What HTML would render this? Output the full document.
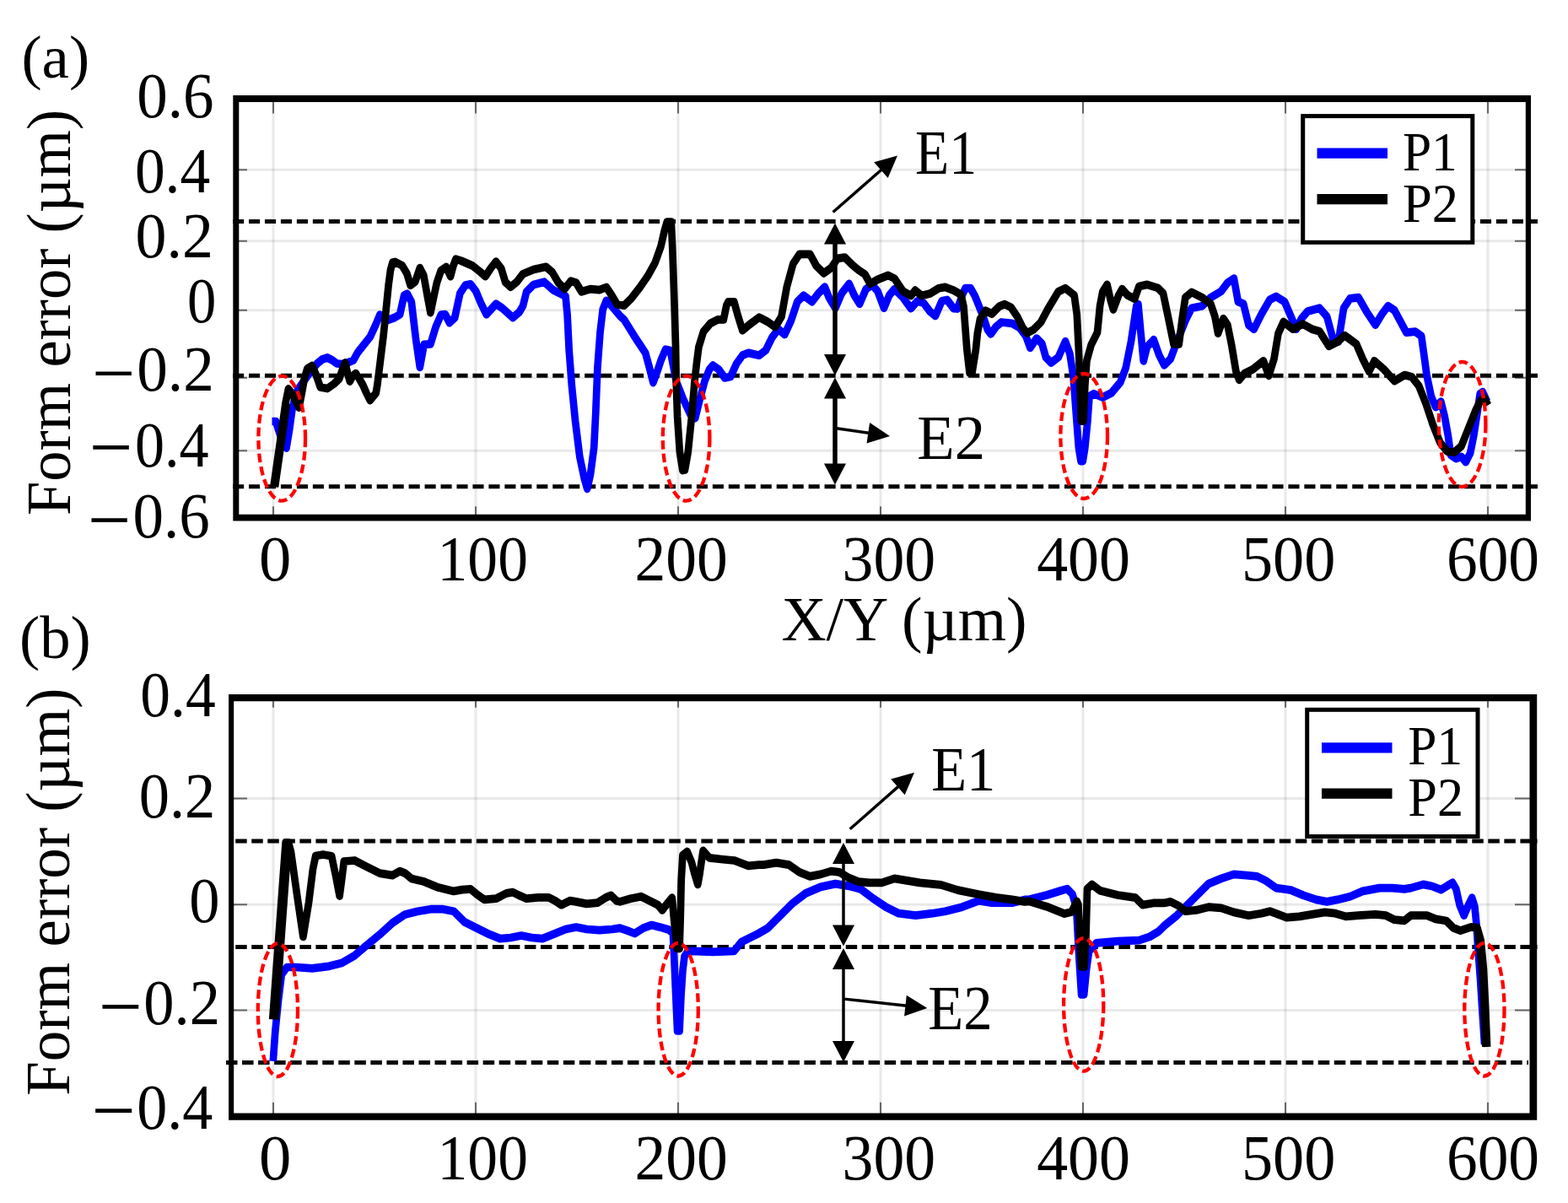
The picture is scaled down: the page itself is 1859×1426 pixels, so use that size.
<!DOCTYPE html>
<html lang="en">
<head>
<meta charset="utf-8">
<title>Form error profiles</title>
<style>
html,body{margin:0;padding:0;background:#fff;}
body{width:1859px;height:1426px;overflow:hidden;}
svg{display:block;}
</style>
</head>
<body>
<svg width="1859" height="1426" viewBox="0 0 1859 1426" font-family='"Liberation Serif", "DejaVu Serif", serif' fill="#000">
<rect width="1859" height="1426" fill="#fff"/>
<g id="figure">
<g id="plot-a">
<path d="M324,117.0 V613.7 M564,117.0 V613.7 M804,117.0 V613.7 M1044,117.0 V613.7 M1284,117.0 V613.7 M1524,117.0 V613.7 M1764,117.0 V613.7" stroke="#000" stroke-opacity="0.085" stroke-width="3" fill="none"/>
<path d="M279.8,201.2 H1811.9 M279.8,285.7 H1811.9 M279.8,367.7 H1811.9 M279.8,447.8 H1811.9 M279.8,534.2 H1811.9" stroke="#000" stroke-opacity="0.085" stroke-width="3" fill="none"/>
<path d="M324,117.0 V134.4 M324,613.7 V600.3 M564,117.0 V134.4 M564,613.7 V600.3 M804,117.0 V134.4 M804,613.7 V600.3 M1044,117.0 V134.4 M1044,613.7 V600.3 M1284,117.0 V134.4 M1284,613.7 V600.3 M1524,117.0 V134.4 M1524,613.7 V600.3 M1764,117.0 V134.4 M1764,613.7 V600.3 M279.8,201.2 H293 M1811.9,201.2 H1796 M279.8,285.7 H293 M1811.9,285.7 H1796 M279.8,367.7 H293 M1811.9,367.7 H1796 M279.8,447.8 H293 M1811.9,447.8 H1796 M279.8,534.2 H293 M1811.9,534.2 H1796" stroke="#666" stroke-width="2" fill="none"/>
<path d="M276.04,262.6 H1823" stroke="#000" stroke-width="5" stroke-dasharray="13.1 5.86" fill="none"/>
<path d="M276.04,445.3 H1823" stroke="#000" stroke-width="5" stroke-dasharray="13.1 5.86" fill="none"/>
<path d="M276.04,576.8 H1823" stroke="#000" stroke-width="5" stroke-dasharray="13.1 5.86" fill="none"/>
<g transform="scale(1,1.12)" fill="none" stroke-linejoin="round" stroke-width="8.7">
<path d="M322.5,445.98 L327.0,445.98 L331.0,457.14 L335.0,467.86 L339.5,474.11 L343.0,455.36 L346.5,433.04 L350.0,419.64 L353.1,412.50 L360.0,403.57 L368.0,393.75 L376.0,384.82 L382.0,380.36 L388.2,378.57 L394.0,381.25 L399.4,384.82 L406.0,385.27 L412.0,383.93 L419.0,381.25 L424.0,373.21 L430.3,366.07 L439.0,356.25 L445.3,343.93 L450.3,333.21 L457.8,339.46 L467.8,336.16 L474.1,332.77 L479.1,312.68 L482.8,310.89 L487.8,319.37 L492.8,357.32 L497.8,388.66 L502.8,364.55 L510.4,364.11 L516.6,346.16 L522.9,333.21 L527.9,332.77 L532.9,341.70 L539.2,336.16 L545.4,310.45 L551.7,301.88 L557.9,300.80 L564.2,308.21 L570.5,321.61 L576.7,332.77 L588.0,321.61 L595.5,326.07 L608.0,336.16 L615.5,330.54 L620.0,323.75 L624.2,308.75 L632.6,301.25 L645.2,298.39 L655.8,306.87 L670.5,313.39 L672.6,333.12 L674.7,370.71 L677.9,408.30 L682.1,445.89 L687.3,483.39 L692.6,505.98 L696.2,517.23 L700.0,502.23 L704.2,474.02 L706.3,436.43 L708.4,389.46 L711.5,351.96 L714.7,327.50 L718.9,318.12 L725.2,323.75 L735.7,335.00 L740.0,338.39 L754.0,358.48 L765.2,373.48 L770.0,389.29 L774.4,404.91 L779.0,393.75 L784.0,380.36 L789.1,369.82 L794.7,370.98 L801.7,403.57 L810.0,422.32 L818.5,438.66 L824.2,442.50 L829.8,422.32 L835.4,403.57 L841.0,391.07 L845.2,386.61 L852.2,391.07 L859.2,399.91 L866.2,398.66 L873.2,384.82 L880.3,376.07 L887.3,373.57 L900.0,376.07 L907.8,370.80 L915.3,357.32 L922.8,348.39 L930.3,354.02 L937.8,339.46 L945.3,319.37 L952.8,312.68 L962.8,319.37 L970.4,310.45 L977.9,303.75 L982.9,314.91 L990.4,326.07 L997.9,310.45 L1006.7,300.36 L1012.9,312.68 L1019.2,321.61 L1026.7,305.98 L1034.2,301.43 L1040.5,308.21 L1048.0,326.07 L1054.2,312.68 L1060.5,305.98 L1070.5,314.91 L1080.0,326.43 L1087.6,318.57 L1095.1,320.80 L1102.7,329.82 L1109.0,334.37 L1116.6,318.57 L1122.9,317.41 L1130.5,326.43 L1135.0,326.79 L1140.6,312.95 L1144.4,305.09 L1150.7,305.09 L1155.7,312.95 L1160.8,324.20 L1165.8,335.45 L1170.9,349.02 L1174.7,353.48 L1181.0,345.62 L1187.3,341.07 L1199.9,342.23 L1208.8,346.79 L1216.3,355.80 L1221.4,368.12 L1229.0,358.04 L1235.3,363.66 L1240.0,378.30 L1246.3,383.93 L1254.7,378.21 L1263.1,361.34 L1268.4,374.46 L1272.6,398.93 L1275.7,436.43 L1278.9,474.02 L1281.5,487.95 L1283.8,487.95 L1286.3,474.02 L1289.4,445.89 L1291.5,419.55 L1296.8,416.70 L1307.3,420.54 L1317.8,415.80 L1328.3,404.55 L1334.7,389.46 L1341.0,361.34 L1347.3,323.75 L1349.4,321.87 L1352.5,351.96 L1355.7,381.96 L1360.0,366.96 L1367.8,359.55 L1374.0,375.27 L1380.3,386.43 L1387.8,379.73 L1395.3,361.79 L1405.3,339.46 L1412.8,326.07 L1425.3,323.84 L1435.4,314.91 L1447.9,308.21 L1455.4,299.20 L1462.9,294.73 L1467.9,319.37 L1474.2,321.61 L1480.4,343.93 L1486.7,348.39 L1495.4,332.77 L1505.5,317.14 L1513.0,313.75 L1523.0,319.37 L1530.5,335.00 L1536.8,348.39 L1543.0,337.23 L1550.5,329.37 L1564.3,326.07 L1573.1,335.00 L1580.6,359.55 L1586.8,361.79 L1593.1,326.07 L1600.6,315.98 L1610.6,314.91 L1620.6,330.54 L1630.6,343.93 L1638.2,332.77 L1645.7,323.84 L1653.2,328.30 L1667.4,351.96 L1677.9,350.98 L1685.2,355.71 L1688.4,376.34 L1691.5,396.96 L1696.8,419.55 L1702.1,430.80 L1708.4,425.18 L1712.6,440.18 L1716.8,460.89 L1720.0,481.52 L1726.3,485.27 L1732.6,483.39 L1737.8,489.02 L1743.1,479.64 L1747.3,460.89 L1751.5,436.43 L1754.7,416.70 L1757.8,414.82 L1763.1,425.18" stroke="#0000ff"/>
<path d="M324.4,515.18 L329.0,486.61 L334.0,455.36 L338.5,426.79 L341.9,411.61 L346.0,416.07 L354.5,431.25 L358.0,415.18 L361.0,400.00 L364.3,390.18 L370.0,387.05 L375.0,397.32 L379.8,409.82 L388.2,411.16 L396.0,406.25 L402.2,400.89 L406.0,391.07 L409.2,383.93 L412.0,394.64 L414.8,403.57 L418.0,398.21 L421.8,395.09 L426.0,400.89 L430.3,407.59 L434.5,416.07 L438.7,423.66 L445.7,416.07 L447.4,407.14 L451.0,381.25 L454.7,354.46 L458.0,325.00 L460.6,301.79 L463.0,285.71 L465.5,277.68 L468.3,277.23 L476.6,280.89 L482.3,289.20 L486.6,301.88 L492.3,298.12 L497.8,283.57 L502.3,291.43 L506.6,312.68 L510.4,330.98 L514.1,314.91 L517.9,299.20 L522.9,286.25 L529.1,282.50 L534.1,292.50 L537.4,281.34 L540.4,274.20 L546.7,275.98 L560.4,281.34 L569.2,287.59 L575.5,292.50 L581.7,284.02 L588.0,276.88 L594.2,284.02 L599.2,298.75 L605.5,303.75 L613.0,298.12 L620.0,289.91 L632.6,285.27 L647.4,282.41 L654.7,288.04 L662.1,299.29 L669.4,305.89 L676.8,297.41 L683.1,299.29 L689.4,308.75 L699.9,305.89 L710.5,306.87 L718.9,304.02 L725.2,312.50 L731.5,321.87 L740.0,323.39 L748.4,315.89 L758.2,304.64 L768.0,292.05 L776.5,278.30 L783.5,260.80 L787.7,244.46 L790.8,234.82 L795.8,234.82 L797.2,260.71 L799.6,323.39 L801.0,366.07 L801.7,403.57 L803.1,441.07 L805.9,478.57 L809.4,497.77 L812.0,497.32 L815.7,478.57 L820.0,441.07 L823.5,403.57 L826.0,383.93 L828.4,367.23 L834.0,350.98 L842.4,342.14 L850.8,338.39 L857.8,338.39 L861.3,323.39 L863.4,319.64 L870.4,319.64 L874.6,333.39 L880.3,349.73 L888.7,343.39 L900.0,335.89 L910.3,340.62 L919.0,346.16 L926.5,335.00 L932.8,303.75 L940.3,279.11 L947.8,269.02 L960.3,269.02 L967.8,281.34 L976.6,289.20 L985.4,283.57 L992.9,273.48 L1001.6,272.41 L1010.4,280.27 L1017.9,285.80 L1025.4,290.27 L1031.7,300.36 L1040.5,295.89 L1053.0,291.43 L1060.5,294.73 L1070.5,308.21 L1080.0,312.95 L1085.0,307.32 L1092.6,312.95 L1102.7,310.71 L1112.8,305.09 L1120.4,303.93 L1130.5,307.32 L1139.3,311.79 L1142.5,324.20 L1144.4,346.79 L1146.3,369.29 L1149.5,394.64 L1152.5,394.64 L1157.0,369.29 L1158.9,352.41 L1162.0,337.77 L1168.4,328.75 L1175.9,332.14 L1184.8,324.20 L1191.1,321.96 L1198.7,325.36 L1206.2,335.45 L1212.5,346.79 L1217.6,352.41 L1225.2,349.02 L1234.0,341.07 L1242.1,327.50 L1254.7,308.75 L1263.1,305.00 L1273.6,312.50 L1276.8,333.04 L1278.9,370.71 L1280.5,408.30 L1281.8,445.54 L1284.6,445.54 L1286.3,408.30 L1288.4,381.96 L1293.6,365.09 L1301.0,351.96 L1304.1,323.75 L1307.3,308.75 L1312.6,301.25 L1316.8,318.12 L1319.9,327.50 L1326.2,312.50 L1330.4,305.89 L1336.8,312.50 L1345.2,316.25 L1350.4,303.12 L1360.0,301.25 L1372.8,304.82 L1379.0,310.45 L1385.3,337.23 L1391.5,364.11 L1397.8,364.11 L1401.6,337.23 L1405.3,314.91 L1412.8,309.29 L1425.3,314.91 L1435.4,321.61 L1440.4,335.00 L1444.1,352.86 L1450.4,337.23 L1455.4,343.93 L1460.4,366.34 L1465.4,393.12 L1469.2,402.05 L1475.4,395.36 L1485.4,390.89 L1497.9,381.96 L1504.2,397.59 L1510.5,379.73 L1515.5,352.86 L1521.7,340.62 L1533.0,348.39 L1544.3,342.86 L1555.5,348.39 L1564.3,350.62 L1575.6,366.34 L1585.6,361.79 L1594.3,355.09 L1608.1,364.11 L1615.6,379.73 L1623.1,393.12 L1629.4,381.96 L1640.7,390.89 L1653.2,403.21 L1665.2,396.96 L1673.7,398.93 L1682.1,408.30 L1690.5,427.05 L1698.9,449.64 L1707.3,468.39 L1715.7,477.77 L1724.2,478.75 L1732.6,472.14 L1741.0,453.39 L1749.4,434.55 L1755.7,423.30 L1759.9,421.43 L1764.1,428.93 M326.0,515.18 L330.6,486.61 L335.6,455.36 L340.0,426.79" stroke="#000"/>
</g>
<ellipse cx="334.2" cy="519.7" rx="27.8" ry="74" fill="none" stroke="#ff0000" stroke-width="4.3" stroke-dasharray="10.5 5"/>
<ellipse cx="813.6" cy="519.7" rx="27.8" ry="74" fill="none" stroke="#ff0000" stroke-width="4.3" stroke-dasharray="10.5 5"/>
<ellipse cx="1285.2" cy="517" rx="27.8" ry="74" fill="none" stroke="#ff0000" stroke-width="4.3" stroke-dasharray="10.5 5"/>
<ellipse cx="1733.6" cy="503" rx="27.8" ry="74" fill="none" stroke="#ff0000" stroke-width="4.3" stroke-dasharray="10.5 5"/>
<path d="M990,274.5 V435" stroke="#000" stroke-width="5.5" fill="none"/>
<polygon points="990.0,264.5 1003.0,289.5 977.0,289.5" fill="#000"/>
<polygon points="990.0,445.0 977.0,420.0 1003.0,420.0" fill="#000"/>
<path d="M990,457.5 V564.5" stroke="#000" stroke-width="5.5" fill="none"/>
<polygon points="990.0,447.5 1003.0,472.5 977.0,472.5" fill="#000"/>
<polygon points="990.0,574.5 977.0,549.5 1003.0,549.5" fill="#000"/>
<path d="M987.6,251.5 L1052.7,194.5" stroke="#000" stroke-width="3.4" fill="none"/>
<polygon points="1064.0,184.6 1052.7,211.1 1036.2,192.3" fill="#000"/>
<path d="M990,507.5 L1040.2,514.8" stroke="#000" stroke-width="3.4" fill="none"/>
<polygon points="1055.0,517.0 1027.5,525.6 1031.1,500.9" fill="#000"/>
<text transform="translate(1085.01,205.70) scale(0.8886,1.000)" font-size="74">E1</text>
<text transform="translate(1087.30,544.20) scale(0.9831,1.000)" font-size="74">E2</text>
<rect x="1544.7" y="137.6" width="201.1" height="149.7" fill="#fff" stroke="#000" stroke-width="5"/>
<path d="M1561.5,181.6 H1645" stroke="#0000ff" stroke-width="12.2" fill="none"/>
<path d="M1561.5,236.2 H1645" stroke="#000" stroke-width="12.2" fill="none"/>
<text transform="translate(1663.03,201.70) scale(0.9289,1.000)" font-size="66">P1</text>
<text transform="translate(1663.00,262.80) scale(0.9476,1.000)" font-size="66">P2</text>
<path d="M276.3,112.9 H1815.0 V617.5 H276.3 Z M283.3,121.0 V609.8 H1808.8 V121.0 Z" fill="#000" fill-rule="evenodd"/>
<text transform="translate(162.22,138.50) scale(0.9865,1.020)" font-size="74">0.6</text>
<text transform="translate(159.88,228.10) scale(0.9658,1.020)" font-size="74">0.4</text>
<text transform="translate(160.58,305.00) scale(0.9988,1.020)" font-size="74">0.2</text>
<text transform="translate(222.09,381.60) scale(0.9278,1.020)" font-size="74">0</text>
<text transform="translate(162.21,463.10) scale(0.9895,1.020)" font-size="74"><tspan x="-53.92" y="10.67" font-size="92.1">−</tspan><tspan x="0" y="0">0.2</tspan></text>
<text transform="translate(159.93,552.60) scale(0.9478,1.020)" font-size="74"><tspan x="-57.06" y="10.23" font-size="96.4">−</tspan><tspan x="0" y="0">0.4</tspan></text>
<text transform="translate(157.42,636.50) scale(0.9865,1.020)" font-size="74"><tspan x="-54.48" y="11.18" font-size="92.1">−</tspan><tspan x="0" y="0">0.6</tspan></text>
<text transform="translate(306.88,688.40) scale(1.0362,1.020)" font-size="74">0</text>
<text transform="translate(518.61,688.40) scale(0.9668,1.020)" font-size="74">100</text>
<text transform="translate(752.47,688.40) scale(0.9940,1.020)" font-size="74">200</text>
<text transform="translate(998.57,688.40) scale(0.9967,1.020)" font-size="74">300</text>
<text transform="translate(1229.16,688.40) scale(0.9978,1.020)" font-size="74">400</text>
<text transform="translate(1471.88,688.40) scale(1.0040,1.020)" font-size="74">500</text>
<text transform="translate(1714.94,688.40) scale(0.9924,1.020)" font-size="74">600</text>
<text transform="translate(83.10,611.09) rotate(-90) scale(0.9812,1.000)" font-size="74">Form error (µm)</text>
<text transform="translate(25.41,91.70) scale(0.9825,0.980)" font-size="74">(a)</text>
</g>
<g id="plot-b">
<path d="M324,827.2 V1323.6 M564,827.2 V1323.6 M804,827.2 V1323.6 M1044,827.2 V1323.6 M1284,827.2 V1323.6 M1524,827.2 V1323.6 M1764,827.2 V1323.6" stroke="#000" stroke-opacity="0.085" stroke-width="3" fill="none"/>
<path d="M274.1,946.5 H1817.8 M274.1,1072.2 H1817.8 M274.1,1197.6 H1817.8" stroke="#000" stroke-opacity="0.085" stroke-width="3" fill="none"/>
<path d="M324,827.2 V838.8 M324,1323.6 V1306.8 M564,827.2 V838.8 M564,1323.6 V1306.8 M804,827.2 V838.8 M804,1323.6 V1306.8 M1044,827.2 V838.8 M1044,1323.6 V1306.8 M1284,827.2 V838.8 M1284,1323.6 V1306.8 M1524,827.2 V838.8 M1524,1323.6 V1306.8 M1764,827.2 V838.8 M1764,1323.6 V1306.8 M274.1,946.5 H293 M1817.8,946.5 H1796 M274.1,1072.2 H293 M1817.8,1072.2 H1796 M274.1,1197.6 H293 M1817.8,1197.6 H1796" stroke="#666" stroke-width="2" fill="none"/>
<path d="M279.2,997 H1822.5" stroke="#000" stroke-width="5" stroke-dasharray="13.5 5.54" fill="none"/>
<path d="M279.2,1122.6 H1822.5" stroke="#000" stroke-width="5" stroke-dasharray="13.5 5.54" fill="none"/>
<path d="M268,1259.5 H1812" stroke="#000" stroke-width="5" stroke-dasharray="13.5 5.54" fill="none"/>
<g transform="scale(1,1.12)" fill="none" stroke-linejoin="round" stroke-width="8.7">
<path d="M323.8,1123.12 L326.3,1091.88 L330.1,1058.30 L333.8,1031.52 L340.1,1023.66 L350.1,1023.66 L370.2,1024.82 L390.2,1022.59 L405.2,1019.20 L420.2,1011.43 L435.2,1000.18 L450.3,989.02 L465.3,976.79 L480.3,967.77 L495.3,964.46 L510.4,962.23 L525.4,962.23 L537.9,964.46 L550.4,975.62 L565.4,982.32 L580.5,989.02 L593.0,993.48 L605.5,992.41 L618.0,990.18 L630.5,992.41 L643.1,993.48 L655.6,989.02 L670.6,983.48 L683.1,981.25 L695.6,983.48 L710.7,984.55 L725.7,983.48 L734.9,982.32 L742.5,984.55 L752.5,987.95 L762.5,982.32 L772.6,979.02 L782.1,981.16 L792.6,983.93 L797.9,987.50 L799.5,1017.86 L801.2,1053.57 L803.1,1091.07 L805.6,1091.07 L807.5,1053.57 L809.5,1026.79 L811.5,1012.14 L815.0,1007.59 L820.0,1006.52 L845.2,1007.41 L870.4,1006.52 L878.9,997.14 L891.5,991.43 L899.9,987.68 L910.3,982.32 L925.3,968.93 L940.3,955.54 L955.3,945.45 L972.9,938.75 L990.4,935.36 L1005.4,937.59 L1020.4,940.98 L1035.5,951.07 L1050.5,960.00 L1065.5,966.70 L1085.5,968.93 L1105.6,966.70 L1120.6,964.46 L1140.6,960.00 L1160.6,953.30 L1175.7,955.54 L1199.9,955.54 L1215.0,952.14 L1220.0,952.05 L1241.0,947.32 L1257.9,942.59 L1265.2,940.71 L1271.5,946.43 L1275.1,957.68 L1276.4,965.18 L1279.0,1008.93 L1282.1,1052.50 L1285.2,1052.50 L1288.0,1026.79 L1291.1,1006.52 L1295.7,1002.77 L1299.9,998.04 L1325.2,996.16 L1350.4,995.27 L1363.1,991.43 L1373.6,985.80 L1379.9,980.18 L1395.3,968.93 L1407.8,957.77 L1420.3,946.61 L1432.8,935.36 L1447.9,929.82 L1462.9,925.36 L1477.9,926.43 L1490.4,927.59 L1500.5,932.05 L1513.0,939.82 L1530.5,942.05 L1545.5,947.68 L1560.5,952.14 L1573.1,954.38 L1585.6,952.14 L1600.6,948.84 L1615.6,943.21 L1635.7,939.82 L1650.7,939.82 L1664.9,940.98 L1672.6,939.82 L1687.4,936.07 L1697.9,937.95 L1708.4,941.70 L1716.8,936.96 L1722.1,934.20 L1726.3,940.71 L1730.5,957.68 L1735.7,968.93 L1741.0,957.68 L1745.2,950.18 L1748.4,959.55 L1750.5,978.30 L1752.0,1000.00 L1755.0,1035.71 L1757.5,1071.43 L1760.0,1105.36" stroke="#0000ff"/>
<path d="M323.2,1078.84 L338.6,891.96 L342.0,891.96 L345.0,901.79 L352.0,946.43 L359.4,991.43 L366.0,955.36 L371.0,919.64 L374.2,905.80 L383.0,904.46 L393.1,905.98 L398.0,926.79 L402.6,948.21 L405.5,928.57 L407.8,911.61 L420.4,910.71 L435.2,917.50 L450.3,924.20 L465.3,926.43 L474.1,921.96 L480.3,924.20 L487.8,929.82 L502.8,933.12 L517.9,938.75 L537.9,943.21 L547.9,941.61 L557.9,940.98 L565.4,946.61 L574.2,952.14 L588.0,951.07 L600.5,945.45 L608.0,944.29 L615.5,947.68 L624.3,951.07 L638.1,949.91 L650.6,949.91 L658.1,953.30 L665.6,957.77 L675.6,953.30 L683.1,954.38 L695.6,956.61 L708.2,955.54 L718.2,949.91 L724.4,947.68 L730.7,953.30 L734.9,954.38 L747.5,951.07 L760.0,948.84 L770.1,953.30 L780.1,957.77 L785.2,963.30 L791.5,955.80 L796.8,950.18 L799.5,977.68 L802.7,1004.02 L805.6,1004.02 L806.8,968.75 L807.7,931.25 L809.4,905.09 L814.7,901.34 L819.9,912.50 L823.5,925.00 L827.3,936.07 L829.5,925.00 L831.5,912.50 L833.6,900.36 L841.0,907.86 L855.0,909.37 L870.4,910.71 L887.3,916.34 L899.9,915.36 L905.3,915.27 L920.3,913.04 L935.3,915.27 L947.8,923.12 L960.3,927.59 L972.9,925.36 L985.4,921.96 L995.4,923.12 L1005.4,928.66 L1017.9,933.12 L1030.4,934.29 L1045.5,934.29 L1060.5,929.82 L1075.5,932.05 L1090.5,934.29 L1115.6,936.52 L1135.6,942.05 L1160.6,946.61 L1180.7,949.91 L1199.9,952.14 L1215.0,954.38 L1220.0,953.93 L1241.0,959.55 L1262.1,967.05 L1270.5,965.18 L1276.8,953.93 L1278.5,957.68 L1280.0,991.07 L1282.1,1023.21 L1285.6,1023.21 L1287.5,991.07 L1289.0,940.71 L1294.7,936.07 L1304.2,942.59 L1325.2,947.32 L1346.2,950.18 L1354.7,957.68 L1367.3,955.80 L1379.9,955.80 L1387.8,954.38 L1397.8,958.84 L1405.3,964.46 L1417.8,963.30 L1432.8,960.00 L1447.9,961.07 L1462.9,965.54 L1480.4,968.93 L1495.4,966.70 L1505.5,964.46 L1515.5,967.77 L1525.5,971.16 L1540.5,970.00 L1555.5,967.77 L1570.6,965.54 L1583.1,966.70 L1595.6,970.00 L1610.6,968.93 L1630.6,967.77 L1643.2,968.93 L1653.2,973.39 L1664.9,974.46 L1672.6,968.93 L1691.6,968.93 L1702.1,972.68 L1714.7,974.55 L1723.1,982.05 L1731.5,984.91 L1744.2,981.16 L1751.5,982.05 L1755.7,995.27 L1758.9,1025.27 L1761.0,1062.86 L1763.1,1107.95 M326.4,1078.84 L341.6,892.86 M1752.5,986.61 L1757.2,1025.27 L1759.3,1062.86 L1761.3,1107.95" stroke="#000"/>
</g>
<ellipse cx="329.4" cy="1197.2" rx="23.6" ry="78.8" fill="none" stroke="#ff0000" stroke-width="4.3" stroke-dasharray="10.5 5"/>
<ellipse cx="804.2" cy="1196.7" rx="23.6" ry="78.8" fill="none" stroke="#ff0000" stroke-width="4.3" stroke-dasharray="10.5 5"/>
<ellipse cx="1284.7" cy="1190.9" rx="23.6" ry="78.8" fill="none" stroke="#ff0000" stroke-width="4.3" stroke-dasharray="10.5 5"/>
<ellipse cx="1759.9" cy="1196.7" rx="23.6" ry="78.8" fill="none" stroke="#ff0000" stroke-width="4.3" stroke-dasharray="10.5 5"/>
<path d="M1000,1009 V1111.5" stroke="#000" stroke-width="3.5" fill="none"/>
<polygon points="1000.0,999.0 1013.0,1024.0 987.0,1024.0" fill="#000"/>
<polygon points="1000.0,1121.5 987.0,1096.5 1013.0,1096.5" fill="#000"/>
<path d="M1000,1134 V1249" stroke="#000" stroke-width="3.5" fill="none"/>
<polygon points="1000.0,1124.0 1013.0,1149.0 987.0,1149.0" fill="#000"/>
<polygon points="1000.0,1259.0 987.0,1234.0 1013.0,1234.0" fill="#000"/>
<path d="M1007.7,982.8 L1072.7,925.6" stroke="#000" stroke-width="3.4" fill="none"/>
<polygon points="1084.0,915.7 1072.7,942.3 1056.2,923.5" fill="#000"/>
<path d="M1000.4,1184.1 L1084.4,1193.3" stroke="#000" stroke-width="3.4" fill="none"/>
<polygon points="1099.3,1194.9 1072.1,1204.5 1074.8,1179.7" fill="#000"/>
<text transform="translate(1104.22,937.20) scale(0.9269,1.000)" font-size="74">E1</text>
<text transform="translate(1100.22,1220.40) scale(0.9291,1.000)" font-size="74">E2</text>
<rect x="1549.7" y="841.3" width="202.3" height="150.2" fill="#fff" stroke="#000" stroke-width="5"/>
<path d="M1567,886.4 H1650.5" stroke="#0000ff" stroke-width="12.2" fill="none"/>
<path d="M1567,940.7 H1650.5" stroke="#000" stroke-width="12.2" fill="none"/>
<text transform="translate(1669.33,906.40) scale(0.9289,1.000)" font-size="66">P1</text>
<text transform="translate(1669.31,966.50) scale(0.9429,1.000)" font-size="66">P2</text>
<path d="M271.1,823.1 H1822.2 V1327.7 H271.1 Z M277.2,831.2 V1319.6 H1813.5 V831.2 Z" fill="#000" fill-rule="evenodd"/>
<text transform="translate(166.27,848.50) scale(0.9670,1.020)" font-size="74">0.4</text>
<text transform="translate(164.64,968.80) scale(0.9802,1.020)" font-size="74">0.2</text>
<text transform="translate(224.34,1092.70) scale(0.9789,1.020)" font-size="74">0</text>
<text transform="translate(170.34,1214.30) scale(0.9802,1.020)" font-size="74"><tspan x="-54.60" y="10.96" font-size="93.8">−</tspan><tspan x="0" y="0">0.2</tspan></text>
<text transform="translate(162.25,1337.70) scale(0.9749,1.020)" font-size="74"><tspan x="-55.25" y="10.96" font-size="95.0">−</tspan><tspan x="0" y="0">0.4</tspan></text>
<text transform="translate(306.88,1397.70) scale(1.0362,1.020)" font-size="74">0</text>
<text transform="translate(518.61,1397.70) scale(0.9668,1.020)" font-size="74">100</text>
<text transform="translate(752.47,1397.70) scale(0.9940,1.020)" font-size="74">200</text>
<text transform="translate(998.57,1397.70) scale(0.9967,1.020)" font-size="74">300</text>
<text transform="translate(1229.16,1397.70) scale(0.9978,1.020)" font-size="74">400</text>
<text transform="translate(1471.88,1397.70) scale(1.0040,1.020)" font-size="74">500</text>
<text transform="translate(1714.94,1397.70) scale(0.9924,1.020)" font-size="74">600</text>
<text transform="translate(81.50,1298.70) rotate(-90) scale(0.9849,1.000)" font-size="74">Form error (µm)</text>
<text transform="translate(23.01,780.00) scale(0.9814,0.980)" font-size="74">(b)</text>
</g>
<text transform="translate(926.38,759.30) scale(0.9954,1.000)" font-size="74">X/Y (µm)</text>
</g>
</svg>
</body>
</html>
